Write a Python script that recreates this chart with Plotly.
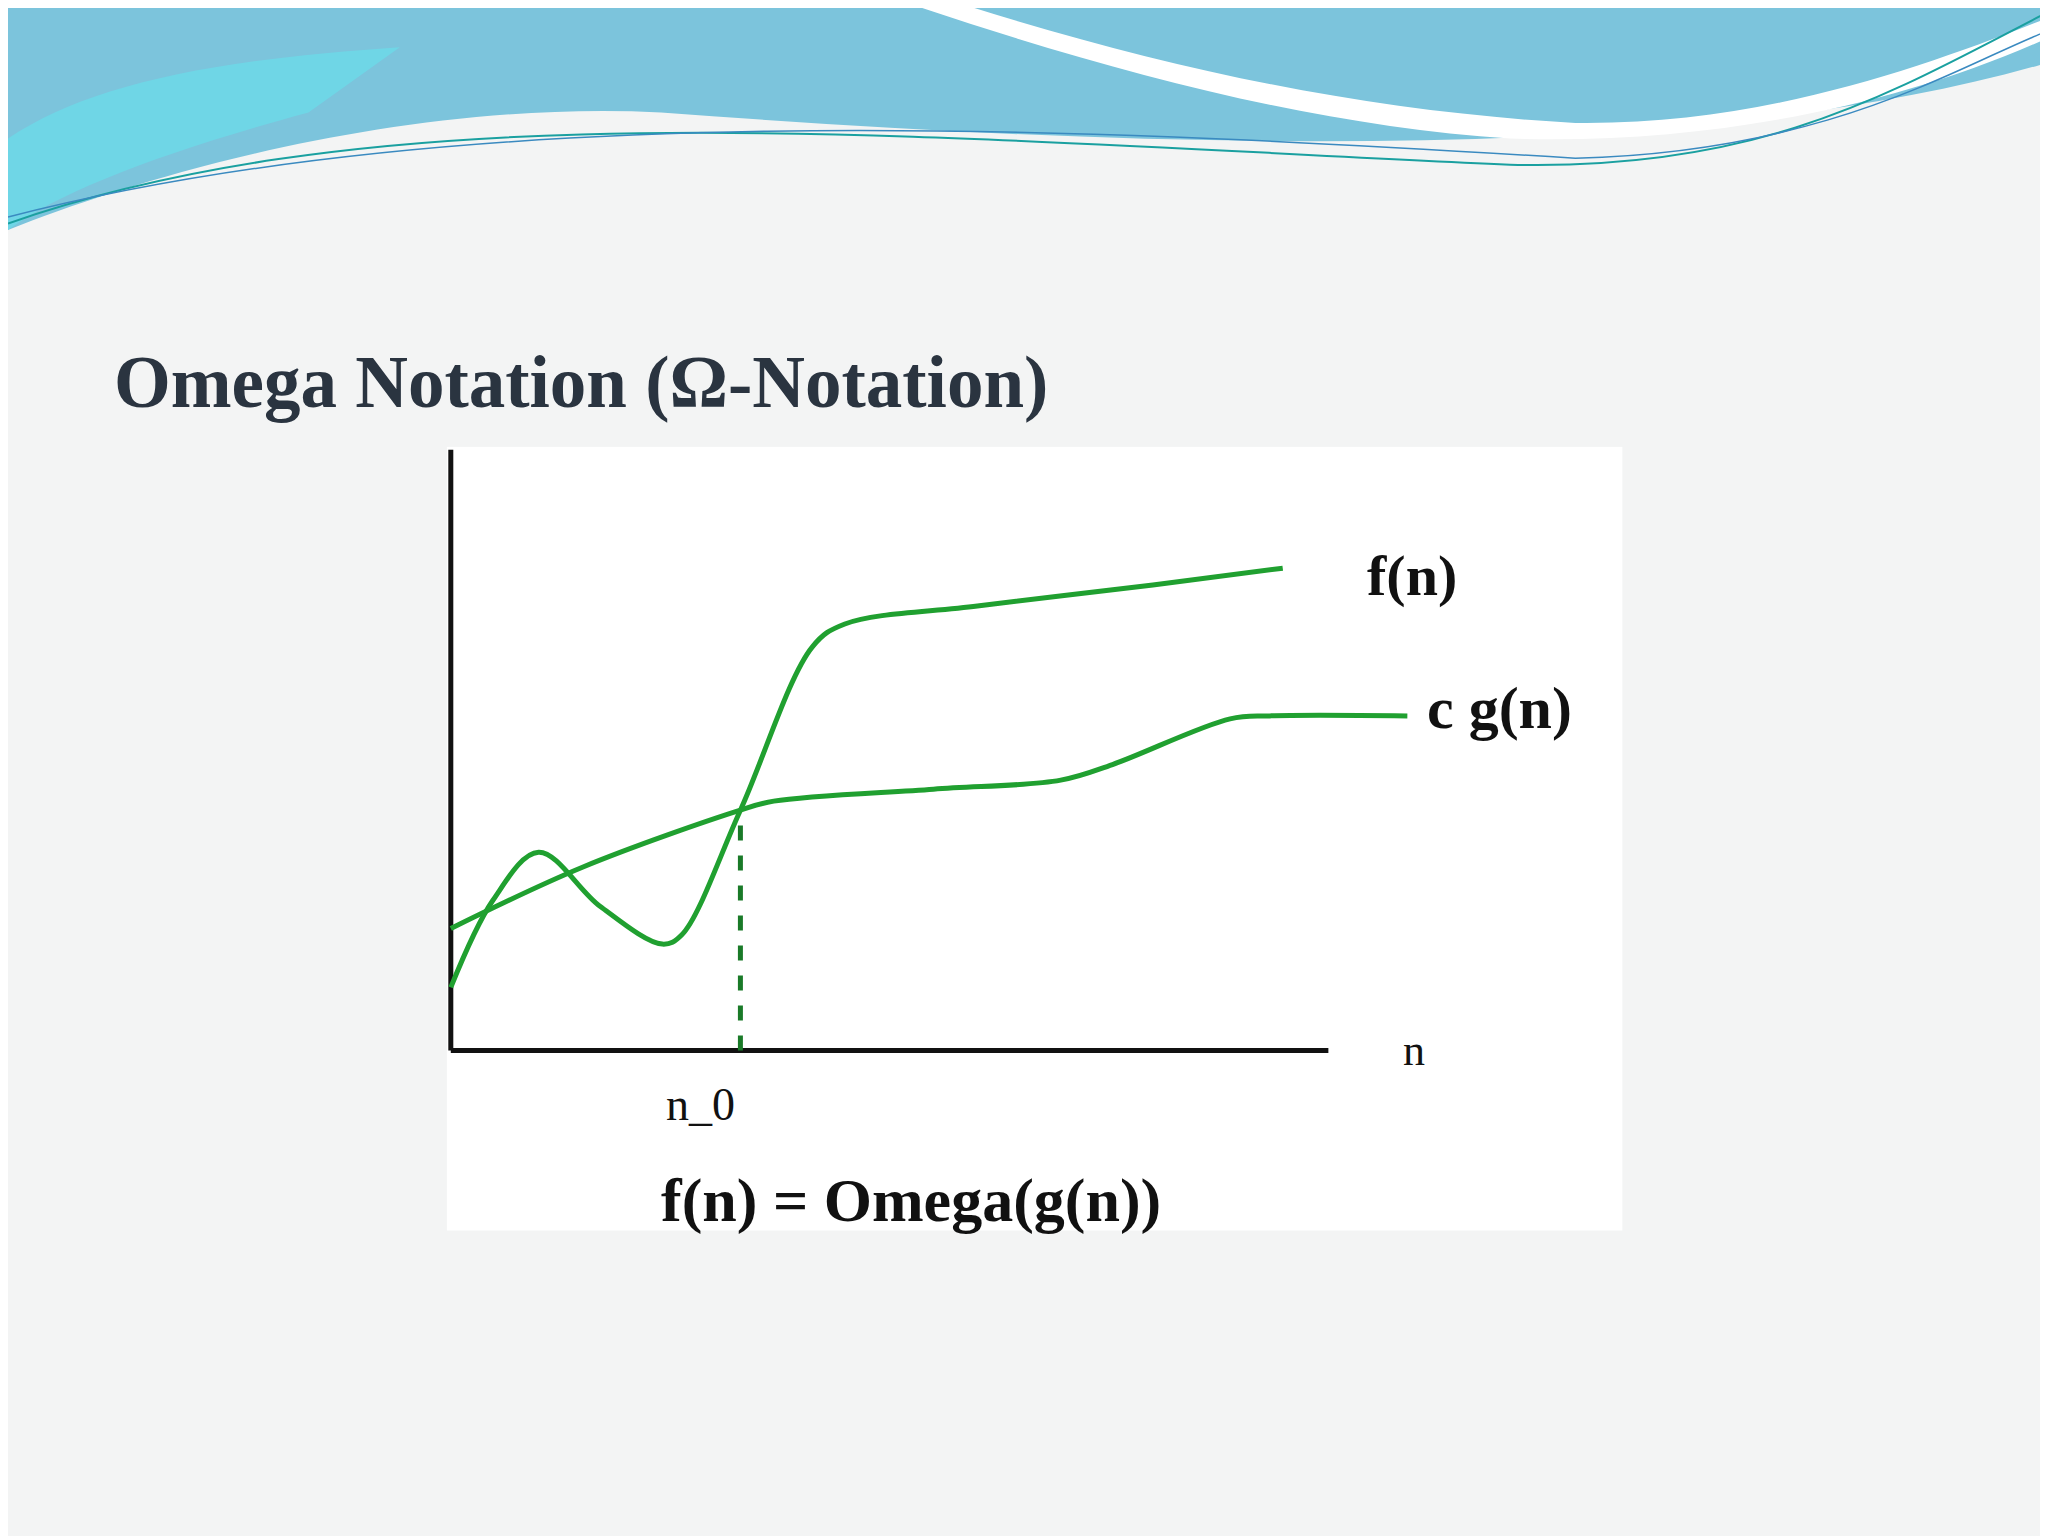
import plotly.graph_objects as go

# curve samples
f_x = [0, 4.8, 10, 17, 24.1, 26.3, 33, 41.2, 44.9, 60, 80, 94.8]
f_y = [10.5, 25, 33, 24, 17.7, 19.2, 40, 67.2, 71, 74, 77.5, 80.3]
g_x = [0, 15, 33, 36.8, 55, 69.5, 75.4, 88.8, 93.3, 109]
g_y = [20.3, 30.5, 40, 41.5, 43.5, 45, 47.6, 55.2, 55.7, 55.7]
n0_x = 33
n0_y = 40

W, H = 1568.0, 1176.0


def px(x, y):
    return "%.4f,%.4f" % (x / W, 1 - y / H)


fig = go.Figure()

green = "#20a030"
fig.add_trace(go.Scatter(x=[0, 100], y=[0, 0], mode="lines",
                         line=dict(color="#111", width=5)))
fig.add_trace(go.Scatter(x=[0, 0], y=[0, 100], mode="lines",
                         line=dict(color="#111", width=5)))
fig.add_trace(go.Scatter(x=[n0_x, n0_x], y=[0, n0_y], mode="lines",
                         line=dict(color="#1a7a28", width=5, dash="dash")))
fig.add_trace(go.Scatter(x=f_x, y=f_y, mode="lines", line_shape="spline",
                         line=dict(color=green, width=5)))
fig.add_trace(go.Scatter(x=g_x, y=g_y, mode="lines", line_shape="spline",
                         line=dict(color=green, width=5)))

serif = "Liberation Serif"
labels = [
    (109.5, 79, "f(n)", 58, True),
    (119.5, 57, "c g(n)", 60, True),
    (109.7, 0, "n", 44, False),
    (28.5, -9, "n_0", 46, False),
    (52.4, -25, "f(n) = Omega(g(n))", 62, True),
]
for x, y, t, s, b in labels:
    fig.add_annotation(x=x, y=y, text="<b>%s</b>" % t if b else t, showarrow=False,
                       font=dict(family=serif, size=s, color="#111"))

fig.add_annotation(x=80 / W, y=1 - 287 / H, xref="paper", yref="paper",
                   xanchor="left", yanchor="middle", showarrow=False,
                   text="<b>Omega Notation (Ω-Notation)</b>",
                   font=dict(family=serif, size=73, color="#2a3440"))

# header wave
shapes = [
    dict(type="path", xref="paper", yref="paper", line_width=0, fillcolor="#7cc4dc",
         path="M " + px(0, 0) + " L " + px(1568, 0) + " L " + px(1568, 40) +
              " C " + px(1300, 120) + " " + px(900, 110) + " " + px(500, 80) +
              " C " + px(300, 70) + " " + px(100, 130) + " " + px(0, 170) + " Z"),
    dict(type="path", xref="paper", yref="paper", line_width=0, fillcolor="#6fd6e6",
         path="M " + px(0, 100) + " C " + px(60, 60) + " " + px(150, 40) + " " + px(300, 30) +
              " L " + px(230, 80) + " C " + px(120, 110) + " " + px(40, 140) + " " + px(0, 170) + " Z"),
    dict(type="path", xref="paper", yref="paper", line_width=0, fillcolor="#ffffff",
         path="M " + px(700, 0) + " L " + px(740, 0) + " C " + px(900, 50) + " " + px(1050, 80) +
              " " + px(1200, 88) + " C " + px(1350, 90) + " " + px(1480, 40) + " " + px(1568, 5) +
              " L " + px(1568, 20) + " C " + px(1450, 75) + " " + px(1300, 105) + " " + px(1150, 100) +
              " C " + px(1000, 90) + " " + px(850, 50) + " " + px(700, 0) + " Z"),
    dict(type="path", xref="paper", yref="paper", line=dict(color="#1aa0a0", width=2),
         path="M " + px(0, 165) + " C " + px(300, 60) + " " + px(700, 100) + " " + px(1150, 120) +
              " C " + px(1350, 125) + " " + px(1450, 60) + " " + px(1568, 0)),
    dict(type="path", xref="paper", yref="paper", line=dict(color="#3a8ac0", width=1.5),
         path="M " + px(0, 160) + " C " + px(350, 70) + " " + px(800, 90) + " " + px(1200, 115) +
              " C " + px(1400, 110) + " " + px(1500, 40) + " " + px(1568, 15)),
]
fig.update_layout(shapes=shapes)

fig.update_layout(
    width=2048, height=1536, showlegend=False,
    margin=dict(l=0, r=0, t=0, b=0),
    paper_bgcolor="#f3f4f4", plot_bgcolor="#ffffff",
    xaxis=dict(domain=[336 / W, 1236 / W], range=[-0.45, 133.5], visible=False),
    yaxis=dict(domain=[1 - 936 / H, 1 - 336 / H], range=[-30, 100.5], visible=False),
)

fig.write_html("out.html")
